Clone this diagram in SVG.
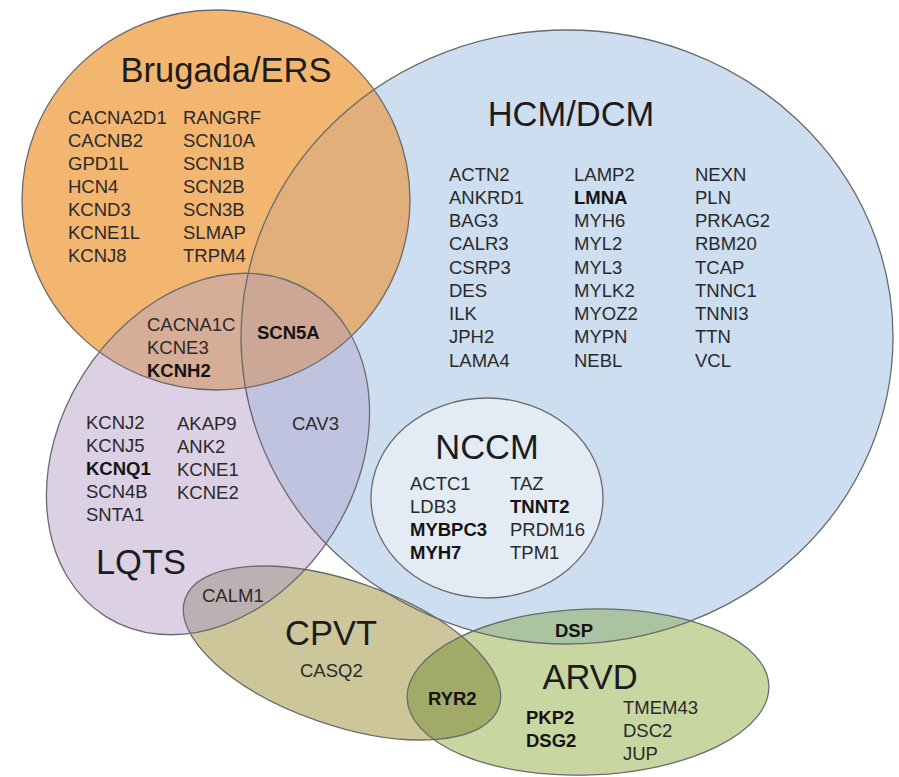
<svg xmlns="http://www.w3.org/2000/svg" xmlns:xlink="http://www.w3.org/1999/xlink" width="899" height="777" viewBox="0 0 899 777">
  <style>
    .outline { fill: none; stroke: #6b6b6b; stroke-width: 1.3; }
    .title { font-family: "Liberation Sans", Arial, sans-serif; font-size: 34.5px; fill: #1c1c1c; text-anchor: middle; }
    .gene { font-family: "Liberation Sans", Arial, sans-serif; font-size: 18.5px; fill: #2a2a2a; }
    .key { font-weight: bold; fill: #141414; }
  </style>
  <defs>
    <!-- set shapes -->
    <ellipse id="shHCM" cx="567" cy="337" rx="326" ry="307"/>
    <ellipse id="shBRU" cx="216" cy="200" rx="194" ry="190"/>
    <ellipse id="shLQTS" cx="208" cy="454" rx="148" ry="192" transform="rotate(32 208 454)"/>
    <ellipse id="shCPVT" cx="342" cy="653" rx="166" ry="72" transform="rotate(19 342 653)"/>
    <ellipse id="shARVD" cx="588" cy="692" rx="181" ry="83" transform="rotate(-2 588 692)"/>
    <ellipse id="shNCCM" cx="487" cy="498" rx="116" ry="100"/>
    <clipPath id="cHCM"><use xlink:href="#shHCM"/></clipPath>
    <clipPath id="cBRU"><use xlink:href="#shBRU"/></clipPath>
    <clipPath id="cLQTS"><use xlink:href="#shLQTS"/></clipPath>
    <clipPath id="cCPVT"><use xlink:href="#shCPVT"/></clipPath>
  </defs>

  <rect width="899" height="777" fill="#ffffff"/>

  <!-- region fills -->
  <g id="fills">
    <use xlink:href="#shHCM" fill="#CDDEF0"/>
    <use xlink:href="#shBRU" fill="#F3B671"/>
    <use xlink:href="#shLQTS" fill="#DCD0E4"/>
    <use xlink:href="#shCPVT" fill="#CEC69B"/>
    <use xlink:href="#shARVD" fill="#C8D6A1"/>
    <!-- overlaps -->
    <g clip-path="url(#cHCM)"><use xlink:href="#shBRU" fill="#E0AF7A"/></g>
    <g clip-path="url(#cHCM)"><use xlink:href="#shLQTS" fill="#C0C3E0"/></g>
    <g clip-path="url(#cBRU)"><use xlink:href="#shLQTS" fill="#D6AE98"/></g>
    <g clip-path="url(#cHCM)"><g clip-path="url(#cBRU)"><use xlink:href="#shLQTS" fill="#CDA795"/></g></g>
    <g clip-path="url(#cLQTS)"><use xlink:href="#shCPVT" fill="#BDB0B3"/></g>
    <g clip-path="url(#cCPVT)"><use xlink:href="#shARVD" fill="#A1AA67"/></g>
    <g clip-path="url(#cHCM)"><use xlink:href="#shARVD" fill="#AAC3A0"/></g>
    <use xlink:href="#shNCCM" fill="#E3EBF5"/>
  </g>

  <!-- Brugada / early repolarisation syndrome -->
  <g id="brugada">
    <use xlink:href="#shBRU" class="outline"/>
    <text class="title" x="226" y="82">Brugada/ERS</text>
    <g class="gene">
      <text x="68" y="124">CACNA2D1</text>
      <text x="68" y="147">CACNB2</text>
      <text x="68" y="170">GPD1L</text>
      <text x="68" y="193">HCN4</text>
      <text x="68" y="216">KCND3</text>
      <text x="68" y="239">KCNE1L</text>
      <text x="68" y="262">KCNJ8</text>
      <text x="183" y="124">RANGRF</text>
      <text x="183" y="147">SCN10A</text>
      <text x="183" y="170">SCN1B</text>
      <text x="183" y="193">SCN2B</text>
      <text x="183" y="216">SCN3B</text>
      <text x="183" y="239">SLMAP</text>
      <text x="183" y="262">TRPM4</text>
    </g>
  </g>

  <!-- hypertrophic / dilated cardiomyopathy -->
  <g id="hcm-dcm">
    <use xlink:href="#shHCM" class="outline"/>
    <text class="title" x="571" y="126">HCM/DCM</text>
    <g class="gene">
      <text x="449" y="180.5">ACTN2</text>
      <text x="449" y="203.75">ANKRD1</text>
      <text x="449" y="227">BAG3</text>
      <text x="449" y="250.25">CALR3</text>
      <text x="449" y="273.5">CSRP3</text>
      <text x="449" y="296.75">DES</text>
      <text x="449" y="320">ILK</text>
      <text x="449" y="343.25">JPH2</text>
      <text x="449" y="366.5">LAMA4</text>
      <text x="574" y="180.5">LAMP2</text>
      <text x="574" y="203.75" class="key">LMNA</text>
      <text x="574" y="227">MYH6</text>
      <text x="574" y="250.25">MYL2</text>
      <text x="574" y="273.5">MYL3</text>
      <text x="574" y="296.75">MYLK2</text>
      <text x="574" y="320">MYOZ2</text>
      <text x="574" y="343.25">MYPN</text>
      <text x="574" y="366.5">NEBL</text>
      <text x="695" y="180.5">NEXN</text>
      <text x="695" y="203.75">PLN</text>
      <text x="695" y="227">PRKAG2</text>
      <text x="695" y="250.25">RBM20</text>
      <text x="695" y="273.5">TCAP</text>
      <text x="695" y="296.75">TNNC1</text>
      <text x="695" y="320">TNNI3</text>
      <text x="695" y="343.25">TTN</text>
      <text x="695" y="366.5">VCL</text>
    </g>
  </g>

  <!-- long QT syndrome -->
  <g id="lqts">
    <use xlink:href="#shLQTS" class="outline"/>
    <text class="title" x="141" y="574">LQTS</text>
    <g class="gene">
      <text x="86" y="429">KCNJ2</text>
      <text x="86" y="452">KCNJ5</text>
      <text x="86" y="475" class="key">KCNQ1</text>
      <text x="86" y="498">SCN4B</text>
      <text x="86" y="521">SNTA1</text>
      <text x="177" y="429.5">AKAP9</text>
      <text x="177" y="452.5">ANK2</text>
      <text x="177" y="475.5">KCNE1</text>
      <text x="177" y="498.5">KCNE2</text>
    </g>
  </g>

  <!-- catecholaminergic polymorphic VT -->
  <g id="cpvt">
    <use xlink:href="#shCPVT" class="outline"/>
    <text class="title" x="331" y="645">CPVT</text>
    <text class="gene" x="300" y="677">CASQ2</text>
  </g>

  <!-- arrhythmogenic right ventricular dysplasia -->
  <g id="arvd">
    <use xlink:href="#shARVD" class="outline"/>
    <text class="title" x="590" y="689">ARVD</text>
    <g class="gene">
      <text x="526" y="724" class="key">PKP2</text>
      <text x="526" y="747" class="key">DSG2</text>
      <text x="623" y="714">TMEM43</text>
      <text x="623" y="737">DSC2</text>
      <text x="623" y="760">JUP</text>
    </g>
  </g>

  <!-- non-compaction cardiomyopathy -->
  <g id="nccm">
    <use xlink:href="#shNCCM" class="outline"/>
    <text class="title" x="487" y="459">NCCM</text>
    <g class="gene">
      <text x="410" y="489.5">ACTC1</text>
      <text x="410" y="512.5">LDB3</text>
      <text x="410" y="535.5" class="key">MYBPC3</text>
      <text x="410" y="558.5" class="key">MYH7</text>
      <text x="510" y="489.5">TAZ</text>
      <text x="510" y="512.5" class="key">TNNT2</text>
      <text x="510" y="535.5">PRDM16</text>
      <text x="510" y="558.5">TPM1</text>
    </g>
  </g>

  <!-- genes shared between sets -->
  <g id="brugada-lqts" class="gene">
    <text x="147" y="331">CACNA1C</text>
    <text x="147" y="354">KCNE3</text>
    <text x="147" y="377" class="key">KCNH2</text>
  </g>
  <g id="brugada-lqts-hcm" class="gene">
    <text x="257" y="339" class="key">SCN5A</text>
  </g>
  <g id="lqts-hcm" class="gene">
    <text x="292" y="430">CAV3</text>
  </g>
  <g id="lqts-cpvt" class="gene">
    <text x="202" y="601.5">CALM1</text>
  </g>
  <g id="cpvt-arvd" class="gene">
    <text x="428" y="705" class="key">RYR2</text>
  </g>
  <g id="hcm-arvd" class="gene">
    <text x="555" y="637" class="key">DSP</text>
  </g>
</svg>
